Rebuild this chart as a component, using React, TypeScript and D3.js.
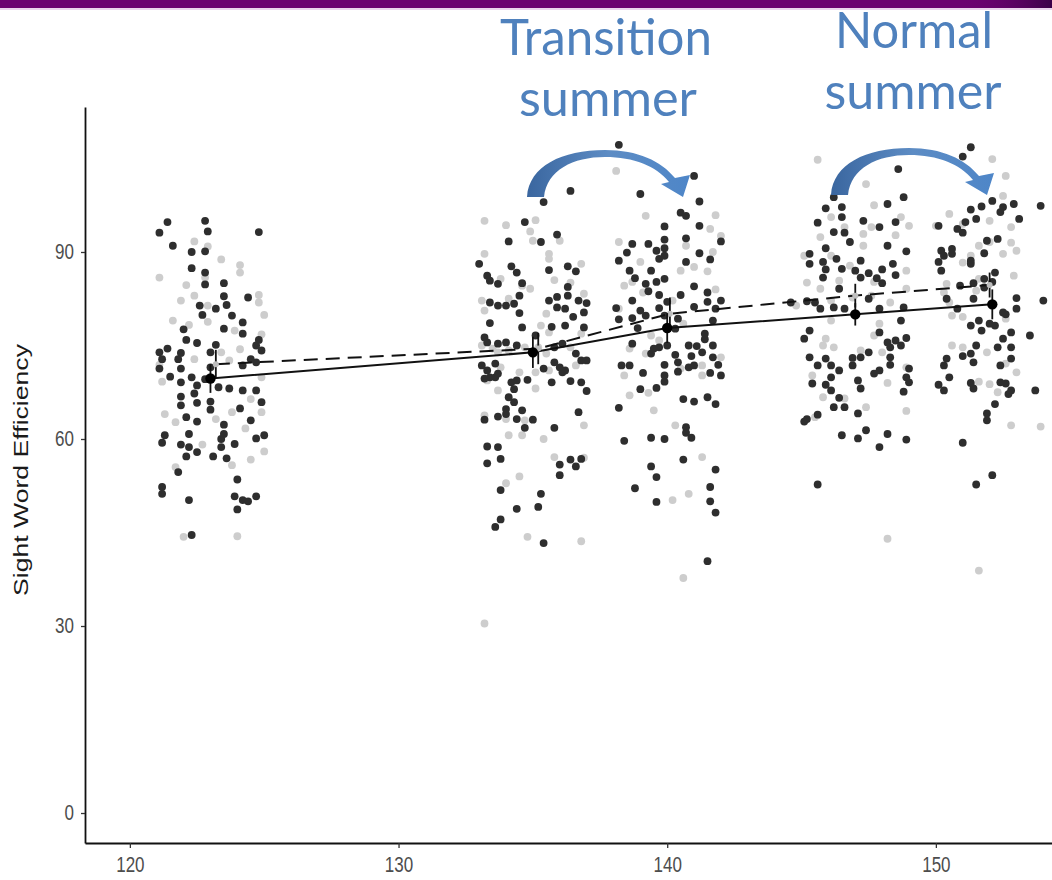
import { useEffect, useRef } from "react";
import * as d3 from "d3";

const W = 1052;
const H = 880;

// group means per wave: solid line = dark points, dashed line = grey points
const solidAges = [123.0, 135.0, 140.0, 147.0, 152.1];
const solidMeans = [69.7, 73.9, 77.8, 80.0, 81.6];
const solidErr = [2.3, 2.5, 2.4, 1.8, 2.4];
const dashedAges = [123.2, 135.2, 140.1, 147.0, 152.0];
const dashedMeans = [72.0, 74.5, 80.1, 83.0, 84.7];
const dashedErr = [2.3, 2.5, 2.6, 1.9, 2.0];

const xTicks = [120, 130, 140, 150];
const yTicks = [0, 30, 60, 90];

// [age in months, score]
const darkPts: [number, number][] = [
  [121.4,94.8],[122.8,95.0],[121.1,93.1],[122.9,93.3],[124.8,93.2],[121.6,91.0],[122.3,90.0],[122.8,90.1],[122.3,87.4],[122.8,86.7],[122.8,84.8],[123.5,85.0],[123.5,82.9],[124.4,82.7],[123.6,81.5],[123.2,80.9],[122.6,81.4],[122.7,79.9],[123.8,79.8],[124.2,78.7],[122.0,77.6],[123.5,77.7],[124.2,76.9],[122.1,75.9],[122.5,75.4],[123.2,75.1],[124.8,75.9],[124.7,75.0],[121.1,73.9],[121.4,74.5],[121.9,73.8],[123.0,73.9],[121.2,72.8],[121.8,72.8],[124.5,72.8],[124.9,74.2],[121.1,71.3],[121.9,71.3],[123.0,71.5],[124.2,71.8],[124.7,72.3],[121.5,70.0],[122.3,69.9],[122.8,69.6],[121.9,69.1],[122.5,68.6],[123.3,68.3],[123.7,68.1],[124.2,67.8],[124.7,67.8],[121.9,66.8],[122.4,67.3],[123.0,66.0],[124.9,65.9],[121.9,65.4],[122.5,65.8],[123.0,64.7],[124.1,64.9],[122.1,63.5],[122.5,62.8],[123.5,62.3],[124.5,63.0],[123.5,60.8],[121.3,60.6],[122.2,60.8],[123.4,60.0],[124.7,60.1],[125.0,60.6],[121.2,59.4],[121.9,59.1],[122.2,58.7],[122.5,57.9],[122.1,57.2],[123.4,58.7],[123.9,59.2],[123.1,57.2],[123.6,56.9],[121.8,54.7],[124.0,53.5],[121.2,52.3],[121.2,51.2],[122.2,50.2],[123.9,50.8],[124.2,50.2],[124.4,50.0],[124.7,50.8],[124.0,48.7],[122.3,44.6],
  [136.4,99.8],[135.4,98.0],[134.7,94.8],[135.9,92.8],[134.1,91.7],[135.3,91.6],[133.0,88.1],[134.2,87.7],[134.4,86.7],[135.6,87.1],[136.3,87.7],[136.6,86.9],[133.3,86.2],[133.4,85.4],[133.7,84.9],[134.6,85.0],[136.3,84.4],[133.4,81.9],[133.7,81.4],[134.0,81.4],[134.3,81.7],[134.5,83.0],[135.6,82.2],[135.9,82.8],[136.3,83.0],[136.7,82.2],[137.0,81.8],[135.9,81.1],[136.2,80.9],[134.5,80.2],[136.5,79.6],[136.9,80.3],[133.4,78.6],[134.6,77.9],[135.7,78.0],[136.2,78.2],[136.9,77.9],[133.2,76.3],[133.3,75.5],[133.7,75.3],[134.0,75.5],[134.4,75.0],[135.1,76.6],[135.8,74.7],[136.1,75.3],[136.6,73.7],[136.8,72.6],[137.0,72.6],[133.1,71.8],[133.3,71.0],[133.6,72.1],[133.7,70.5],[133.2,69.7],[133.4,69.9],[133.6,69.9],[135.8,72.3],[136.0,71.5],[136.2,71.0],[136.1,70.7],[135.4,71.3],[134.2,69.1],[134.4,69.4],[134.8,69.5],[135.7,69.1],[136.4,69.3],[136.8,69.1],[137.0,67.7],[134.3,68.0],[134.1,66.7],[134.3,65.9],[134.0,64.8],[134.6,64.6],[133.7,63.6],[134.0,64.0],[133.2,63.1],[134.4,63.2],[135.0,63.1],[136.7,64.3],[134.7,61.8],[135.8,61.8],[133.3,58.8],[133.7,58.7],[133.3,56.1],[133.8,56.8],[136.0,55.9],[136.0,54.2],[136.4,56.7],[136.6,55.6],[136.8,56.8],[133.8,51.8],[135.3,51.2],[134.4,48.8],[135.2,49.1],[133.8,47.1],[133.6,45.9],[135.4,43.3],
  [138.2,107.2],[141.0,102.2],[139.0,99.3],[141.2,98.1],[140.5,96.3],[140.7,95.8],[139.9,94.1],[141.2,94.2],[142.0,91.7],[140.7,92.2],[139.9,92.0],[138.7,91.3],[139.3,91.3],[139.6,90.2],[139.9,90.6],[138.5,89.9],[138.2,88.6],[139.7,88.9],[139.9,89.4],[141.2,89.8],[141.6,88.8],[140.7,88.4],[138.6,87.0],[139.4,87.0],[138.8,85.8],[139.2,84.9],[139.6,85.2],[139.9,85.7],[141.0,84.5],[139.3,83.7],[139.7,83.1],[140.5,83.1],[141.5,83.5],[138.7,82.2],[140.0,82.0],[141.5,82.0],[142.0,82.2],[138.1,81.0],[139.0,80.6],[139.7,81.0],[141.0,81.2],[141.8,80.9],[138.2,79.2],[138.7,79.4],[139.2,79.8],[139.9,79.8],[140.4,79.3],[141.7,79.0],[138.9,77.8],[140.3,77.7],[141.4,76.9],[141.4,76.0],[138.7,75.3],[140.0,75.0],[139.5,74.5],[139.7,74.7],[140.8,75.0],[141.1,74.9],[141.7,75.0],[139.4,73.7],[140.3,73.5],[140.9,73.3],[141.3,73.9],[141.7,73.1],[138.3,71.8],[138.6,71.8],[139.9,71.9],[140.4,72.3],[140.8,71.5],[141.0,71.8],[141.9,71.9],[139.1,70.6],[139.9,70.2],[140.4,70.8],[141.6,70.6],[142.0,70.2],[139.9,69.2],[139.0,68.0],[139.6,68.2],[140.6,66.4],[141.0,66.0],[141.5,66.7],[141.8,65.6],[138.2,65.0],[140.7,61.9],[140.7,61.0],[140.9,60.2],[138.4,59.7],[139.4,60.2],[139.9,60.0],[140.6,56.7],[139.4,55.6],[141.8,55.1],[139.6,53.9],[138.8,52.1],[141.6,52.3],[139.6,49.9],[141.6,50.0],[141.8,48.2],[141.5,40.4],
  [148.6,103.3],[146.2,98.8],[148.8,98.8],[148.2,97.7],[145.9,97.0],[146.5,97.2],[146.5,95.6],[145.6,94.7],[147.3,95.0],[148.5,94.8],[146.2,93.2],[146.6,93.1],[147.9,94.0],[146.8,91.6],[148.2,91.0],[145.3,89.7],[145.9,90.6],[148.9,90.1],[145.3,88.1],[145.8,88.4],[146.3,88.9],[147.2,88.6],[148.4,88.1],[145.9,87.2],[146.5,87.3],[147.0,87.0],[147.5,86.6],[148.0,87.2],[145.8,85.9],[147.2,85.9],[147.8,85.8],[148.5,86.3],[148.0,85.0],[146.4,84.1],[147.5,82.5],[144.6,81.9],[145.2,82.1],[145.5,81.9],[145.7,80.9],[146.2,81.1],[146.6,80.9],[147.9,80.9],[148.8,81.1],[148.7,79.0],[145.3,77.4],[145.1,76.1],[147.9,77.1],[148.2,75.5],[148.5,75.8],[148.9,76.2],[148.3,74.7],[148.7,75.0],[145.3,73.1],[145.6,71.8],[145.9,72.9],[146.1,71.8],[146.9,73.0],[147.2,73.1],[147.5,73.9],[148.3,73.1],[146.9,71.8],[146.4,71.0],[147.7,70.5],[147.9,71.0],[148.3,71.9],[149.0,71.3],[146.1,69.9],[148.9,69.9],[145.4,68.9],[145.9,68.7],[147.1,69.4],[147.2,68.1],[146.1,67.8],[149.0,69.1],[148.8,67.6],[146.4,66.6],[146.2,65.1],[146.6,65.1],[147.1,64.1],[145.1,62.8],[145.2,63.2],[145.6,63.9],[146.5,60.6],[147.4,61.4],[147.1,60.1],[147.9,58.7],[148.2,60.8],[148.9,59.9],[145.6,52.7],
  [151.3,106.8],[151.0,105.3],[152.1,98.2],[151.7,97.3],[151.3,96.8],[152.9,97.7],[152.5,97.2],[152.4,96.4],[153.1,95.3],[151.5,95.3],[151.1,94.8],[150.1,94.2],[150.8,93.7],[151.0,93.1],[151.9,91.8],[152.3,92.1],[150.2,90.2],[150.6,90.5],[150.3,89.4],[150.6,89.7],[151.8,89.8],[151.3,88.6],[150.1,88.4],[151.3,88.1],[150.2,87.0],[152.2,86.7],[151.8,85.7],[151.4,85.0],[150.9,84.6],[151.8,84.3],[152.1,85.2],[150.4,82.5],[151.4,82.5],[153.0,82.6],[150.8,80.9],[152.6,80.0],[152.5,80.3],[153.0,80.9],[151.6,79.0],[151.7,77.4],[151.3,78.2],[152.0,78.5],[152.2,78.2],[152.8,77.1],[152.5,76.1],[152.8,74.7],[152.3,74.7],[151.5,75.0],[151.3,73.7],[151.4,72.3],[150.4,72.9],[150.3,71.8],[151.0,73.3],[152.4,71.8],[152.8,72.9],[150.5,69.9],[150.1,68.7],[150.3,67.8],[151.3,69.0],[151.4,68.1],[152.4,69.1],[152.6,68.9],[152.8,67.8],[152.7,67.2],[152.2,65.6],[151.9,64.1],[151.9,63.0],[151.0,59.4],[152.1,54.2],[151.5,52.7],[153.9,97.4],[154.0,82.2],[153.7,67.8],[153.5,76.6],
];

const greyPts: [number, number][] = [
  [122.4,91.7],[122.9,90.9],[123.4,88.8],[124.1,87.9],[124.1,86.7],[121.1,85.9],[122.8,85.9],[122.1,84.7],[124.8,83.1],[122.4,83.0],[121.9,82.2],[124.8,81.9],[122.9,81.4],[125.0,79.9],[121.6,79.0],[122.9,78.8],[123.9,77.4],[124.9,76.8],[122.2,78.3],[123.4,73.9],[124.1,74.4],[122.4,72.8],[123.7,72.6],[121.1,71.9],[124.9,69.9],[121.2,69.2],[124.5,66.4],[124.9,64.3],[121.3,64.0],[121.7,62.7],[123.8,64.3],[123.2,63.2],[124.3,61.7],[122.7,59.1],[125.0,58.0],[124.5,56.7],[123.8,55.8],[121.7,55.5],[122.0,44.3],[124.0,44.4],
  [133.2,95.0],[134.0,94.3],[135.1,95.1],[134.9,93.3],[135.0,91.8],[136.0,91.8],[133.2,89.7],[135.6,89.7],[135.6,88.9],[136.8,88.1],[133.8,85.7],[135.8,85.5],[136.4,85.1],[134.9,84.1],[134.6,84.6],[133.1,82.2],[133.2,80.6],[134.1,82.5],[135.5,80.1],[136.9,83.3],[135.3,78.2],[135.6,77.1],[136.8,76.9],[133.1,75.0],[133.5,74.5],[133.7,73.9],[134.1,74.2],[134.7,74.7],[135.2,74.7],[135.5,73.7],[136.4,74.7],[133.8,71.5],[134.5,70.7],[135.1,70.7],[135.6,71.0],[136.6,71.8],[133.3,69.4],[133.7,67.8],[135.1,68.1],[134.0,63.2],[133.2,63.8],[134.7,63.0],[136.9,62.2],[134.1,60.6],[134.6,60.6],[135.4,60.0],[135.8,57.1],[136.9,57.0],[134.5,54.0],[134.0,52.9],[134.8,44.3],[136.8,43.6],[133.2,30.4],
  [138.1,103.0],[139.2,95.8],[141.8,95.9],[141.6,93.7],[142.0,92.6],[138.2,91.6],[140.7,91.0],[141.7,90.0],[139.0,88.4],[141.0,87.6],[140.5,87.0],[141.5,86.9],[138.7,85.2],[138.4,84.6],[139.1,83.5],[141.8,84.0],[140.2,82.2],[138.2,80.9],[140.6,78.5],[139.4,76.6],[139.7,75.8],[138.6,74.5],[139.2,73.7],[142.0,73.1],[141.3,71.8],[138.4,70.2],[140.5,71.3],[141.3,70.2],[138.6,67.0],[139.3,67.4],[139.5,64.6],[140.3,62.2],[141.3,57.1],[140.8,51.2],[140.2,50.2],[140.6,37.7],
  [145.6,104.8],[147.4,100.9],[147.7,97.5],[147.6,94.0],[148.7,95.6],[149.0,94.2],[146.1,95.6],[147.3,92.9],[145.7,92.4],[146.6,94.0],[148.5,92.7],[147.3,91.0],[145.1,89.4],[146.1,89.4],[146.8,87.8],[148.9,87.0],[145.2,85.1],[146.4,85.4],[147.7,85.2],[145.7,84.1],[148.9,84.1],[146.9,82.7],[146.1,82.2],[147.6,83.0],[148.3,81.9],[144.8,81.4],[146.1,79.0],[147.9,78.5],[147.7,76.6],[145.9,76.1],[146.2,74.7],[145.8,75.0],[147.2,74.2],[148.0,73.9],[148.9,71.5],[145.4,70.2],[148.2,69.0],[145.8,66.7],[146.6,66.5],[147.4,65.1],[145.5,63.5],[148.9,64.5],[148.2,44.0],
  [152.1,104.9],[152.6,102.2],[150.0,94.2],[150.5,96.1],[152.0,95.0],[152.5,99.0],[152.8,94.0],[151.0,94.5],[152.8,91.5],[153.0,90.2],[151.6,91.0],[152.0,91.6],[152.5,89.7],[151.0,88.3],[151.3,89.4],[150.4,84.9],[151.6,85.7],[152.9,86.2],[150.5,81.9],[150.3,83.5],[150.6,79.8],[151.0,79.6],[151.5,83.8],[152.6,79.3],[150.6,75.0],[151.0,74.7],[151.9,73.9],[152.6,72.1],[153.0,70.7],[151.6,69.2],[152.0,68.8],[152.3,67.5],[152.8,62.2],[151.6,38.9],[153.9,62.0],
];

const x = d3.scaleLinear().domain([118.33, 154.62]).range([85, 1060]);
const y = d3.scaleLinear().domain([-4.81, 113.26]).range([843, 107]);

// curved annotation arrow (slide decoration, drawn in page pixels)
const arrowPath =
  "M527,197 C529,166 562,150 605,150 C638,150 661,161 675,178 " +
  "L690,175 L683,197 L661,184 L669,182 " +
  "C656,166 634,157 605,157 C573,157 547,170 544,197 Z";

const blue = "#4f81bd";
const labelFont = "Lato, 'Open Sans', sans-serif";

const App = () => {
  const axRef = useRef<SVGGElement>(null);

  useEffect(() => {
    const g = d3.select(axRef.current);
    g.selectAll("*").remove();

    const yAxis = g.append("g")
      .attr("transform", "translate(85,0)")
      .call(d3.axisLeft(y).tickValues(yTicks).tickSize(4).tickSizeOuter(0).tickPadding(7).tickFormat(d3.format("d")));
    const xAxis = g.append("g")
      .attr("transform", "translate(0,843)")
      .call(d3.axisBottom(x).tickValues(xTicks).tickSize(5).tickSizeOuter(0).tickPadding(6).tickFormat(d3.format("d")));

    [yAxis, xAxis].forEach((a) => {
      a.select(".domain").attr("stroke", "#111").attr("stroke-width", 1.8);
      a.selectAll(".tick line").attr("stroke", "#333").attr("stroke-width", 1.3);
      a.selectAll(".tick text")
        .attr("fill", "#4d4d4d")
        .attr("font-size", 17)
        .attr("font-family", "'Liberation Sans', Arial, sans-serif")
        .attr("transform", "scale(1,1.25)");
    });
  }, []);

  const solidLine = d3.line<number>()
    .x((_, i) => x(solidAges[i]))
    .y((d) => y(d));
  const dashedLine = d3.line<number>()
    .x((_, i) => x(dashedAges[i]))
    .y((d) => y(d));

  return (
    <svg width={W} height={H} style={{ position: "absolute", left: 0, top: 0, background: "#fff" }}>
      <defs>
        <linearGradient id="barFade" x1="0" x2="1" y1="0" y2="0">
          <stop offset="0" stopColor="#6b0070" stopOpacity={0} />
          <stop offset="1" stopColor="#3b0048" stopOpacity={1} />
        </linearGradient>
        <linearGradient id="arrowFill" x1="0" x2="1" y1="0" y2="0">
          <stop offset="0" stopColor="#3a669f" />
          <stop offset="0.5" stopColor="#5d8cc4" />
          <stop offset="1" stopColor="#4e86c8" />
        </linearGradient>
        <filter id="soft" x="-20%" y="-20%" width="140%" height="140%">
          <feGaussianBlur stdDeviation="0.6" />
        </filter>
      </defs>

      {/* slide header band */}
      <rect x={0} y={0} width={W} height={8} fill="#6b0070" />
      <rect x={960} y={0} width={92} height={8} fill="url(#barFade)" />
      <rect x={0} y={8} width={W} height={2} fill="#ead2ec" />

      {/* points */}
      <g filter="url(#soft)">
        {greyPts.map((d, i) => (
          <circle key={"g" + i} cx={x(d[0])} cy={y(d[1])} r={3.9} fill="#cdcdcd" />
        ))}
        {darkPts.map((d, i) => (
          <circle key={"d" + i} cx={x(d[0])} cy={y(d[1])} r={3.9} fill="#2e2e2e" />
        ))}
      </g>

      {/* mean trajectories */}
      <path d={dashedLine(dashedMeans) || ""} fill="none" stroke="#111" strokeWidth={2} strokeDasharray="14,8" />
      <path d={solidLine(solidMeans) || ""} fill="none" stroke="#111" strokeWidth={2} />
      {dashedMeans.map((m, i) => (
        <g key={"de" + i}>
          <line x1={x(dashedAges[i])} x2={x(dashedAges[i])} y1={y(m - dashedErr[i])} y2={y(m + dashedErr[i])} stroke="#111" strokeWidth={1.8} />
          <circle cx={x(dashedAges[i])} cy={y(m)} r={3} fill="#bdbdbd" />
        </g>
      ))}
      {solidMeans.map((m, i) => (
        <g key={"se" + i}>
          <line x1={x(solidAges[i])} x2={x(solidAges[i])} y1={y(m - solidErr[i])} y2={y(m + solidErr[i])} stroke="#111" strokeWidth={1.8} />
          <circle cx={x(solidAges[i])} cy={y(m)} r={5.2} fill="#000" />
        </g>
      ))}

      {/* axes */}
      <g ref={axRef} />
      <text
        transform="translate(28,470) rotate(-90)"
        textAnchor="middle"
        fontSize={21}
        fontFamily="'Liberation Sans', Arial, sans-serif"
        fill="#1a1a1a"
        textLength={252}
        lengthAdjust="spacingAndGlyphs"
      >
        Sight Word Efficiency
      </text>

      {/* annotations */}
      <path d={arrowPath} fill="url(#arrowFill)" />
      <path d={arrowPath} fill="url(#arrowFill)" transform="translate(304,-2)" />
      <g fill={blue} fontFamily={labelFont} fontSize={50} textAnchor="middle">
        <text x={606} y={55} textLength={212} lengthAdjust="spacingAndGlyphs">Transition</text>
        <text x={608} y={116} textLength={178} lengthAdjust="spacingAndGlyphs">summer</text>
        <text x={914} y={48} textLength={158} lengthAdjust="spacingAndGlyphs">Normal</text>
        <text x={913} y={109} textLength={177} lengthAdjust="spacingAndGlyphs">summer</text>
      </g>
    </svg>
  );
};

export default App;
